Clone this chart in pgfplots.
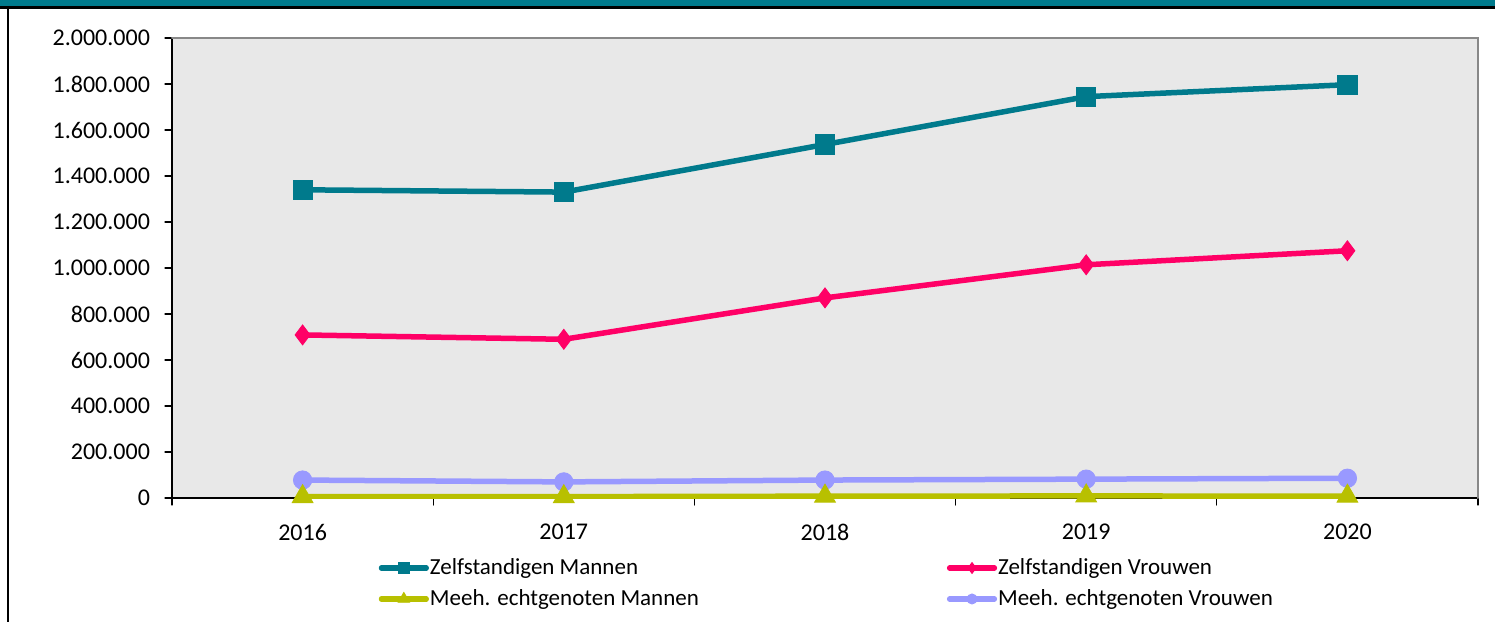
\documentclass[border=0pt]{standalone}
\usepackage{pgfplots}
\pgfplotsset{compat=1.18}
\usepackage{fontspec}
\setmainfont{Carlito}
\definecolor{cteal}{RGB}{0,122,140}
\definecolor{cpink}{RGB}{255,0,102}
\definecolor{colive}{RGB}{184,192,0}
\definecolor{clav}{RGB}{153,153,255}
\definecolor{cbg}{RGB}{232,232,232}
\definecolor{cframe}{RGB}{136,136,136}
\begin{document}
\begin{tikzpicture}[x=1pt,y=1pt]
\path[use as bounding box] (0,0) rectangle (747.5,311);
\fill[cteal] (0,308) rectangle (747.5,311);
\fill[black] (0,306.5) rectangle (747.5,308);
\fill[black] (3.5,0) rectangle (4.5,306.5);
\begin{axis}[
  at={(86pt,62pt)}, anchor=south west,
  scale only axis, width=653pt, height=230pt,
  xmin=-0.5, xmax=4.5, ymin=0, ymax=2000000,
  axis x line*=bottom, axis y line*=left,
  axis line style={black, line width=0.8pt, -},
  axis background/.style={fill=cbg},
  tick align=outside,
  xtick={0,1,2,3,4}, xticklabels={2016,2017,2018,2019,2020},
  minor xtick={-0.5,0.5,1.5,2.5,3.5,4.5},
  major x tick style={draw=none},
  minor x tick style={black, line width=0.6pt},
  minor tick length=3.5pt,
  major tick length=3.5pt,
  ytick={0,200000,...,2000000},
  y tick style={black, line width=0.6pt},
  scaled y ticks=false,
  yticklabel style={xshift=-4pt, /pgf/number format/.cd, fixed, 1000 sep={.}, assume math mode=true},
  xticklabel style={yshift=-6pt},
  tick label style={font=\fontsize{12}{14}\selectfont},
  line cap=round,
  legend columns=2,
  legend cell align=left,
  legend style={at={(0.158,-0.122)}, anchor=north west, draw=none, fill=none,
    inner sep=0pt, font=\fontsize{11.5}{13}\selectfont, row sep=2pt,
    nodes={inner xsep=0.5pt},
    /tikz/every even column/.append style={column sep=123.5pt}},
  legend image code/.code={\draw[mark repeat=2, mark phase=2, line cap=round, line width=2.6pt, every mark/.append style={scale=0.55}] plot coordinates {(0pt,0pt) (11.25pt,0pt) (22.5pt,0pt)};},
  after end axis/.code={\draw[cframe, line width=1pt] (rel axis cs:0,1) -- (rel axis cs:1,1) -- (rel axis cs:1,0);},
]
\addplot[cteal, line width=2.75pt, mark=square*, mark size=4.8pt, mark options={solid, line width=0.4pt}]
  coordinates {(0,1340000) (1,1330000) (2,1537000) (3,1745000) (4,1797000)};
\addlegendentry{Zelfstandigen Mannen}
\addplot[cpink, line width=2.75pt, mark=diamond*, mark size=5pt, mark options={solid, line width=0.4pt}]
  coordinates {(0,709000) (1,690000) (2,870000) (3,1014000) (4,1075000)};
\addlegendentry{Zelfstandigen Vrouwen}
\addplot[clav, line width=2.75pt, mark=*, mark size=4.6pt, mark options={solid, line width=0.4pt}, forget plot]
  coordinates {(0,78000) (1,70000) (2,78000) (3,82000) (4,86000)};
\addplot[colive, line width=2.75pt, mark=triangle*, mark size=6pt, mark options={solid, line width=0.4pt}]
  coordinates {(0,6000) (1,6000) (2,8000) (3,9000) (4,8000)};
\addlegendentry{Meeh. echtgenoten Mannen}
\addlegendimage{clav, line width=2.75pt, mark=*, mark size=4.6pt, mark options={solid, line width=0.4pt}}
\addlegendentry{Meeh. echtgenoten Vrouwen}
\end{axis}
\end{tikzpicture}
\end{document}
